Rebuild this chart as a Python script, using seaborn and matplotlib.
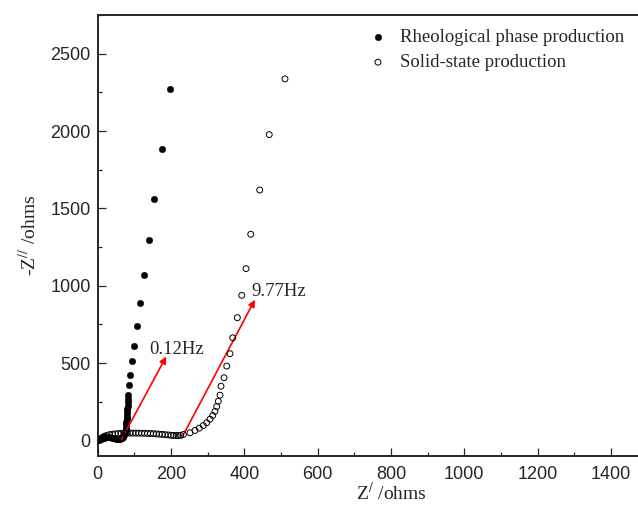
import pandas as pd
import numpy as np
import matplotlib
matplotlib.use("Agg")
import matplotlib.pyplot as plt
import seaborn as sns

# Rheological phase production (filled dots)
rheo_x = [1, 3, 5, 8, 11, 15, 19, 24, 29, 34, 39, 44, 49, 53, 57, 61, 64, 67,
          70, 72, 74, 75.5, 76.5, 77.5, 78, 78.5, 79, 79.5, 80, 80.5, 81, 81.5,
          82, 82.5, 83, 85, 88, 94, 98, 106, 115, 126, 139, 154, 175, 198]
rheo_y = [2, 6, 10, 13, 16, 18, 20, 21, 21, 20, 18, 16, 13, 11, 10, 11, 14, 19,
          26, 35, 46, 58, 72, 88, 104, 120, 137, 153, 170, 188, 206, 226,
          246, 268, 296, 356, 425, 511, 613, 737, 886, 1069, 1294, 1563, 1884, 2270]

# Solid-state production (open circles)
solid_x = [3, 6, 10, 14, 19, 25, 32, 40, 48, 56, 64, 72, 80, 88, 96, 104, 112,
           120, 128, 136, 144, 152, 160, 168, 176, 184, 192, 200, 207, 214, 220,
           226, 233.6, 251.8, 265.5, 277.2, 288.1, 297.4, 306.4, 313.8, 320,
           324.7, 329, 333.7, 336.4, 344.6, 352, 361, 368.3, 381, 393, 404.6,
           417.5, 442, 468, 511]
solid_y = [2, 8, 15, 22, 28, 33, 38, 41, 43, 45, 46, 47, 48, 48, 48, 48, 48,
           47, 47, 46, 45, 44, 43, 41, 40, 38, 36, 34, 33, 32, 32,
           33, 39, 50, 65, 80, 97, 115, 138, 162, 188,
           220, 254, 293, 351, 406, 481, 561, 664, 794, 938, 1111,
           1333, 1619, 1977, 2337]

# frequency markers: (label, arrow tail, arrow head)
freq_labels = ["0.12Hz", "9.77Hz"]
arrow_tail = [(65, 8), (232, 30)]
arrow_head = [(187, 543), (429, 910)]
label_pos = [(140, 590), (420, 960)]

df_rheo = pd.DataFrame({"x": rheo_x, "y": rheo_y})
df_solid = pd.DataFrame({"x": solid_x, "y": solid_y})

sns.set_style("ticks")
plt.rcParams["font.family"] = ["Liberation Sans", "DejaVu Sans"]
plt.rcParams["mathtext.fontset"] = "stix"

fig = plt.figure(figsize=(6.38, 5.12), dpi=100)
ax = fig.add_axes([97.7 / 638, 56 / 512, 549.8 / 638, 441 / 512])

sns.scatterplot(data=df_rheo, x="x", y="y", ax=ax, color="black", s=22,
                edgecolor="black", linewidth=0.3, label="Rheological phase production",
                zorder=3)
sns.scatterplot(data=df_solid, x="x", y="y", ax=ax, facecolor="none", s=18,
                edgecolor="black", linewidth=0.7, label="Solid-state production",
                zorder=4)

for lab, t, h, p in zip(freq_labels, arrow_tail, arrow_head, label_pos):
    ax.annotate("", xy=h, xytext=t,
                arrowprops=dict(arrowstyle="-|>", color="red", lw=1.2,
                                mutation_scale=10, shrinkA=0, shrinkB=0))
    ax.text(p[0], p[1], lab, family="Liberation Serif", fontsize=13.5,
            ha="left", va="center")

ax.set_xlim(0, 1500)
ax.set_ylim(-100, 2750)
ax.set_xticks(range(0, 1500, 200))
ax.set_xticks(range(100, 1500, 200), minor=True)
ax.set_yticks(range(0, 2501, 500))
ax.set_yticks(range(250, 2751, 500), minor=True)
ax.tick_params(which="both", direction="in", width=0.9, labelsize=13)
ax.tick_params(which="major", length=6)
ax.tick_params(which="minor", length=3.2)
ax.tick_params(axis="x", pad=7)
ax.tick_params(axis="y", pad=5)
for s in ax.spines.values():
    s.set_linewidth(1.4)

ax.set_xlabel(r"Z$^{/}$ /ohms", family="Liberation Serif", fontsize=14)
ax.set_ylabel(r"-Z$^{//}$ /ohms", family="Liberation Serif", fontsize=14)
ax.xaxis.set_label_coords(0.535, -0.06)
ax.yaxis.set_label_coords(-0.105, 0.5)

ax.legend(loc="upper left", bbox_to_anchor=(368.6 / 638, 1 - 29 / 512),
          bbox_transform=fig.transFigure, frameon=False, borderpad=0,
          borderaxespad=0, handlelength=1.0, handletextpad=0.67,
          labelspacing=0.42, prop={"family": "Liberation Serif", "size": 13.5})

fig.savefig("out.png", dpi=100)
